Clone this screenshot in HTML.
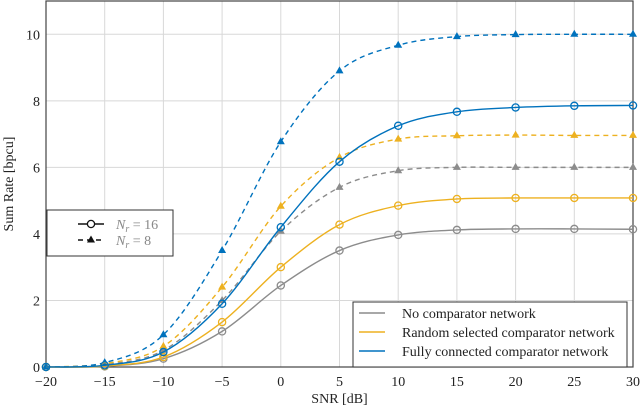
<!DOCTYPE html>
<html><head><meta charset="utf-8"><style>
body{margin:0;background:#fff}
svg text{font-family:"Liberation Serif",serif;fill:#222}
</style></head><body>
<svg id="chart" width="640" height="409" xmlns="http://www.w3.org/2000/svg"></svg>
<script>
const snr=[-20,-15,-10,-5,0,5,10,15,20,25,30];
const grayN16=[0,0.02,0.25,1.07,2.45,3.5,3.97,4.12,4.15,4.15,4.14];
const yellowN16=[0,0.03,0.3,1.35,3.0,4.28,4.85,5.05,5.08,5.08,5.08];
const blueN16=[0,0.05,0.45,1.9,4.2,6.17,7.25,7.67,7.8,7.85,7.86];
const grayN8=[0,0.07,0.5,2.0,4.08,5.4,5.9,6.0,6.0,6.0,6.0];
const yellowN8=[0,0.1,0.62,2.4,4.83,6.3,6.85,6.95,6.97,6.96,6.96];
const blueN8=[0,0.13,0.97,3.5,6.77,8.9,9.67,9.93,9.99,10.0,10.0];
const xTicks=[-20,-15,-10,-5,0,5,10,15,20,25,30];
const yTicks=[0,2,4,6,8,10];
const legendLabels=["No comparator network","Random selected comparator network","Fully connected comparator network"];
const NS="http://www.w3.org/2000/svg";
const svg=document.getElementById('chart');
const L=46,R=633,T=1,B=367,XMIN=-20,XMAX=30,YMAX=11;
const sx=v=>L+(v-XMIN)/(XMAX-XMIN)*(R-L);
const sy=v=>B-v/YMAX*(B-T);
function mk(tag,at,parent){const e=document.createElementNS(NS,tag);for(const k in at)e.setAttribute(k,at[k]);(parent||svg).appendChild(e);return e;}
const GRAY="#8c8c8c",YEL="#edb120",BLUE="#0072bd";
// grid
xTicks.forEach(t=>{const g=mk('line',{x1:sx(t),x2:sx(t),y1:T,y2:B,stroke:'#d8d8d8','stroke-width':1});


const tx=mk('text',{x:sx(t),y:B+19,'text-anchor':'middle','font-size':14});tx.textContent=(t<0?'\u2212'+(-t):t);

});
yTicks.forEach(t=>{const g=mk('line',{x1:L,x2:R,y1:sy(t),y2:sy(t),stroke:'#d8d8d8','stroke-width':1});


const tx=mk('text',{x:L-6,y:sy(t)+5,'text-anchor':'end','font-size':14});tx.textContent=t;

});
const frame=mk('rect',{x:L,y:T,width:R-L,height:B-T,fill:'none',stroke:'#444','stroke-width':1.2});


const xt=mk('text',{x:(L+R)/2,y:403,'text-anchor':'middle','font-size':14});xt.textContent='SNR [dB]';


const yt=mk('text',{x:0,y:0,'text-anchor':'middle','font-size':14,transform:`translate(13,${(T+B)/2}) rotate(-90)`});yt.textContent='Sum Rate [bpcu]';


function smooth(pts){let d=`M${pts[0][0]},${pts[0][1]}`;for(let i=0;i<pts.length-1;i++){const p0=pts[i-1]||pts[i],p1=pts[i],p2=pts[i+1],p3=pts[i+2]||p2;
const c1=[p1[0]+(p2[0]-p0[0])/6,p1[1]+(p2[1]-p0[1])/6],c2=[p2[0]-(p3[0]-p1[0])/6,p2[1]-(p3[1]-p1[1])/6];d+=` C${c1[0]},${c1[1]} ${c2[0]},${c2[1]} ${p2[0]},${p2[1]}`;}return d;}
function series(vals,color,dashed,name){const pts=snr.map((x,i)=>[sx(x),sy(vals[i])]);
const p=mk('path',{d:smooth(pts),fill:'none',stroke:color,'stroke-width':1.4,'stroke-dasharray':dashed?'5,4':'none'});


pts.forEach(([x,y])=>{let m;if(dashed){m=mk('path',{d:`M${x},${y-4.5}L${x+4},${y+2.5}L${x-4},${y+2.5}Z`,fill:color});}
else{m=mk('circle',{cx:x,cy:y,r:3.6,fill:'none',stroke:color,'stroke-width':1.3});}

});}
series(grayN8,GRAY,true,'no-comparator-nr8');
series(yellowN8,YEL,true,'random-comparator-nr8');
series(blueN8,BLUE,true,'full-comparator-nr8');
series(grayN16,GRAY,false,'no-comparator-nr16');
series(yellowN16,YEL,false,'random-comparator-nr16');
series(blueN16,BLUE,false,'full-comparator-nr16');
// right legend
const lg=mk('g',{});
mk('rect',{x:353,y:302,width:274,height:65,fill:'#fff',stroke:'#333','stroke-width':1},lg);
[GRAY,YEL,BLUE].forEach((c,i)=>{const y=313+i*19;
const ln=mk('line',{x1:359,x2:385,y1:y,y2:y,stroke:c,'stroke-width':1.5},lg);


const t=mk('text',{x:402,y:y+5,'font-size':14},lg);t.textContent=legendLabels[i];

});
// left legend
const lg2=mk('g',{});
mk('rect',{x:47,y:210,width:126,height:46,fill:'#fff',stroke:'#333','stroke-width':1},lg2);
mk('line',{x1:78,x2:104,y1:224,y2:224,stroke:'#111','stroke-width':1.5},lg2);
mk('circle',{cx:91,cy:224,r:3.6,fill:'#fff',stroke:'#111','stroke-width':1.3},lg2);
mk('line',{x1:78,x2:104,y1:240,y2:240,stroke:'#111','stroke-width':1.5,'stroke-dasharray':'5,4'},lg2);
mk('path',{d:'M91,235.5L95,242.5L87,242.5Z',fill:'#111'},lg2);
const l1=mk('text',{x:116,y:229,'font-size':14,'font-style':'italic',style:'fill:#888'},lg2);l1.innerHTML='N<tspan font-size="10" dy="3">r</tspan><tspan dy="-3" font-style="normal"> = 16</tspan>';


const l2=mk('text',{x:116,y:245,'font-size':14,'font-style':'italic',style:'fill:#888'},lg2);l2.innerHTML='N<tspan font-size="10" dy="3">r</tspan><tspan dy="-3" font-style="normal"> = 8</tspan>';


</script>
</body></html>
